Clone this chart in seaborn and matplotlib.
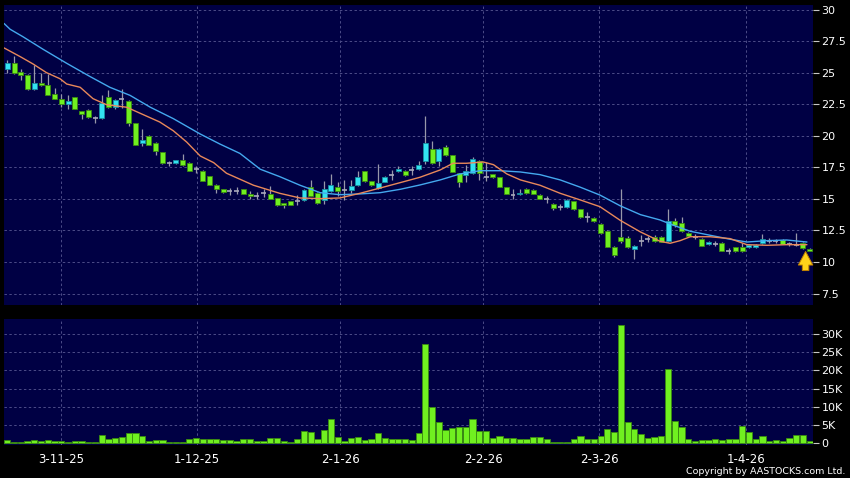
import numpy as np
import seaborn as sns
import matplotlib.pyplot as plt
from matplotlib.patches import Rectangle

# daily candles, oldest first
opens = [25.27, 25.75, 25.05, 24.8, 23.73, 24.2, 24.0, 23.3, 22.95, 22.5,
         23.05, 21.94, 22.04, 21.4, 21.39, 23.1, 22.3, 22.94, 22.73, 21.0,
         19.45, 19.98, 19.4, 18.7, 17.87, 17.87, 18.08, 17.82, 17.35, 17.23,
         16.8, 16.13, 15.76, 15.6, 15.65, 15.76, 15.39, 15.23, 15.44, 15.39,
         15.07, 14.65, 14.81, 14.86, 14.9, 15.92, 15.49, 14.91, 15.6, 15.92,
         15.7, 15.7, 16.08, 17.18, 16.39, 15.87, 16.34, 16.87, 17.18, 17.18,
         17.26, 17.39, 17.98, 18.98, 18.03, 19.09, 18.45, 17.03, 16.87, 17.08,
         17.98, 16.76, 16.97, 16.71, 15.92, 15.33, 15.35, 15.76, 15.7, 15.33,
         14.97, 14.6, 14.33, 14.33, 14.81, 14.17, 13.54, 13.49, 13.01, 12.48,
         11.21, 12.0, 11.9, 11.0, 11.7, 11.8, 11.95, 12.0, 11.64, 13.22,
         13.11, 12.32, 12.0, 11.85, 11.43, 11.45, 11.53, 10.85, 11.16, 11.16,
         11.16, 11.16, 11.48, 11.69, 11.64, 11.74, 11.43, 11.37, 11.53, 11.05]
highs = [26.0, 26.3, 25.27, 24.9, 25.6, 24.95, 24.9, 23.8, 23.3, 23.25,
         23.1, 22.0, 22.1, 21.6, 23.2, 23.6, 22.9, 23.7, 22.8, 21.05,
         20.5, 20.05, 19.5, 18.75, 18.0, 18.1, 18.56, 17.9, 17.6, 17.3,
         16.85, 16.2, 15.8, 15.85, 15.9, 15.8, 15.65, 15.55, 15.75, 16.0,
         15.1, 14.7, 14.85, 15.3, 15.75, 16.5, 15.55, 16.44, 17.0, 16.3,
         16.5, 16.5, 17.2, 17.2, 16.45, 17.77, 16.8, 17.3, 17.6, 17.3,
         17.6, 18.0, 21.57, 19.56, 19.0, 19.3, 18.5, 17.05, 17.7, 18.35,
         18.1, 17.9, 17.0, 16.75, 15.95, 15.8, 15.75, 15.85, 15.75, 15.4,
         15.2, 14.65, 14.6, 14.95, 14.85, 14.2, 13.95, 13.55, 13.05, 12.5,
         11.25, 15.76, 12.05, 11.35, 12.1, 12.05, 12.1, 12.05, 14.17, 13.45,
         13.6, 12.4, 12.2, 11.9, 11.65, 11.7, 11.6, 11.1, 11.2, 11.5,
         11.4, 11.4, 12.2, 11.9, 11.85, 11.85, 11.6, 12.27, 11.6, 11.1]
lows = [25.0, 24.9, 24.4, 23.65, 23.6, 23.95, 23.2, 22.9, 22.3, 22.15,
        22.1, 21.3, 21.4, 21.0, 21.3, 22.2, 22.1, 22.2, 20.8, 19.25,
        19.2, 19.25, 18.5, 17.8, 17.6, 17.8, 17.6, 17.2, 17.05, 16.4,
        16.1, 15.44, 15.5, 15.3, 15.4, 15.35, 15.0, 14.95, 15.15, 14.95,
        14.45, 14.3, 14.5, 14.5, 14.8, 15.2, 14.6, 14.6, 15.55, 15.2,
        14.9, 15.45, 16.0, 16.35, 16.0, 15.8, 16.3, 16.5, 17.1, 16.8,
        16.9, 17.3, 17.8, 17.8, 17.6, 18.4, 17.1, 15.92, 16.3, 17.0,
        16.5, 16.4, 16.65, 15.9, 15.35, 15.0, 15.3, 15.4, 15.35, 14.95,
        14.7, 14.1, 14.1, 14.3, 14.15, 13.5, 13.15, 13.2, 12.25, 11.15,
        10.4, 11.5, 11.1, 10.26, 11.3, 11.55, 11.6, 11.55, 11.6, 12.8,
        12.4, 11.95, 11.8, 11.25, 11.35, 11.3, 10.85, 10.6, 10.8, 10.75,
        11.1, 11.1, 11.45, 11.5, 11.5, 11.4, 11.3, 11.25, 11.05, 10.85]
closes = [25.75, 24.95, 24.8, 23.73, 24.16, 24.0, 23.26, 22.95, 22.5, 22.75,
          22.15, 21.73, 21.47, 21.4, 22.62, 22.26, 22.84, 22.94, 21.0, 19.3,
          19.67, 19.3, 18.8, 17.87, 17.87, 18.08, 17.7, 17.23, 17.35, 16.44,
          16.13, 15.8, 15.55, 15.6, 15.65, 15.39, 15.23, 15.23, 15.44, 15.0,
          14.49, 14.49, 14.54, 14.86, 15.7, 15.23, 14.65, 15.76, 16.08, 15.65,
          15.7, 16.02, 16.71, 16.39, 16.08, 16.24, 16.71, 16.87, 17.39, 16.87,
          17.26, 17.66, 19.4, 17.87, 18.98, 18.45, 17.13, 16.34, 17.18, 18.14,
          17.03, 16.76, 16.71, 15.92, 15.39, 15.33, 15.45, 15.44, 15.39, 14.97,
          14.97, 14.28, 14.33, 14.91, 14.17, 13.54, 13.54, 13.27, 12.27, 11.21,
          10.53, 11.64, 11.16, 11.27, 11.7, 11.8, 11.7, 11.6, 13.22, 12.9,
          12.45, 12.03, 12.0, 11.27, 11.58, 11.45, 10.88, 10.85, 10.9, 10.9,
          11.32, 11.37, 11.8, 11.69, 11.64, 11.43, 11.43, 11.37, 11.1, 10.9]

volumes = [900, 400, 400, 700, 900, 550, 900, 600, 600, 450,
           600, 700, 400, 400, 2200, 1300, 1500, 1700, 2800, 2800,
           2100, 600, 1000, 1000, 450, 400, 400, 1300, 1500, 1200,
           1100, 1100, 1000, 900, 700, 1200, 1200, 700, 700, 1500,
           1500, 550, 400, 1300, 3400, 3000, 1300, 3750, 6600, 1700,
           600, 1400, 1800, 900, 1100, 2800, 1400, 1200, 1200, 1100,
           800, 2800, 27300, 10000, 5900, 3750, 4100, 4400, 4500, 6600,
           3300, 3300, 1500, 2000, 1600, 1600, 1200, 1100, 1700, 1700,
           1200, 400, 450, 300, 1300, 2000, 1100, 1200, 1900, 3900,
           3100, 32400, 5900, 3900, 2600, 1600, 1700, 1900, 20400, 6200,
           4500, 1200, 700, 1000, 1000, 1300, 1000, 1100, 1100, 4850,
           3000, 1300, 2100, 700, 900, 600, 1600, 2200, 2200, 550]

# moving average lines, read at points along the chart
ma_long_x = [-0.5, 0.4, 2.3, 5.3, 8.8, 12.3, 15.2, 18.2, 21.2, 24.6, 28.6, 31.5,
             34.5, 37.5, 40.4, 43.4, 46.4, 49.3, 52.3, 55.3, 58.3, 61.2, 64.2,
             67.1, 70.1, 73.1, 76.1, 79, 82, 85, 87.9, 90.9, 93.9, 96.8, 98.8,
             101.3, 104.2, 107.2, 109.7, 112.7, 115.6, 118.6]
ma_long = [28.9, 28.44, 27.85, 26.85, 25.74, 24.68, 23.84, 23.2, 22.26, 21.36, 20.14, 19.35,
           18.6, 17.35, 16.76, 16.08, 15.49, 15.33, 15.39, 15.49, 15.76, 16.1, 16.5,
           16.97, 17.23, 17.23, 17.13, 16.92, 16.5, 15.92, 15.3, 14.45, 13.75, 13.33, 12.91,
           12.43, 12.12, 11.8, 11.58, 11.69, 11.74, 11.58]
ma_short_x = [-0.5, 1.9, 3.8, 5.8, 7.8, 8.8, 10.8, 12.7, 14.7, 17.7, 19.7, 22.6,
              24.6, 26.6, 28.6, 30.6, 32.5, 36.5, 40.4, 43.4, 46.4, 49.3, 52.3,
              55.3, 58.3, 61.2, 64.2, 66.1, 68.1, 70.6, 72.1, 74.1, 76.1, 79, 82,
              85, 87.9, 90.9, 93.9, 96.8, 98.3, 99.8, 101.3, 104.2, 107.2, 109.7,
              112.7, 115.6, 118.6]
ma_short = [26.96, 26.27, 25.69, 25.0, 24.52, 24.1, 23.84, 22.94, 22.46, 22.26, 21.78, 21.09,
            20.4, 19.5, 18.4, 17.87, 17.03, 16.08, 15.44, 15.07, 15.02, 15.07, 15.44,
            15.86, 16.29, 16.71, 17.29, 17.82, 17.82, 17.92, 17.71, 16.97, 16.5, 16.08, 15.44,
            14.91, 14.38, 13.3, 12.38, 11.64, 11.48, 11.69, 12.0, 12.0, 11.85, 11.37,
            11.32, 11.37, 11.37]

date_labels = ["3-11-25", "1-12-25", "2-1-26", "2-2-26", "2-3-26", "1-4-26"]
date_pos = [7.95, 28.1, 49.4, 70.6, 87.75, 109.6]

price_ticks = [7.5, 10, 12.5, 15, 17.5, 20, 22.5, 25, 27.5, 30]
price_labels = ["7.5", "10", "12.5", "15", "17.5", "20", "22.5", "25", "27.5", "30"]
vol_ticks = [0, 5000, 10000, 15000, 20000, 25000, 30000]
vol_labels = ["0", "5K", "10K", "15K", "20K", "25K", "30K"]

navy = "#000044"
grid_col = "#4c4c88"
up_face, up_edge = "#33e3f2", "#1790a0"
dn_face, dn_edge = "#70f020", "#3a8a10"
doji_col = "#a8a8bc"
wick_col = "#9898aa"

sns.set_style("dark", {"axes.facecolor": navy, "figure.facecolor": "black"})
plt.rcParams["font.family"] = ["DejaVu Sans"]

fig = plt.figure(figsize=(8.5, 4.78), dpi=100, facecolor="black")
ax = fig.add_axes([4 / 850, 1 - 305 / 478, 809 / 850, 300 / 478])
axv = fig.add_axes([4 / 850, 1 - 445 / 478, 809 / 850, 126.5 / 478])

idx = np.arange(len(opens))

# candles
body_w = 0.74
ax.vlines(idx, lows, highs, color=wick_col, linewidth=0.9, zorder=3)
for i, (o, c) in enumerate(zip(opens, closes)):
    if abs(c - o) < 0.02:
        ax.hlines(o, i - body_w / 2, i + body_w / 2, color=doji_col, linewidth=1.2, zorder=4)
        continue
    face, edge = (up_face, up_edge) if c > o else (dn_face, dn_edge)
    ax.add_patch(Rectangle((i - body_w / 2, min(o, c)), body_w, abs(c - o),
                           facecolor=face, edgecolor=edge, linewidth=0.6, zorder=4))

sns.lineplot(x=ma_long_x, y=ma_long, color="#44a8ee", linewidth=1.0, ax=ax, zorder=5)
sns.lineplot(x=ma_short_x, y=ma_short, color="#e8885a", linewidth=1.0, ax=ax, zorder=5)

# yellow marker arrow at the latest bar
ax.annotate("", xy=(118.4, 11.05), xytext=(118.4, 9.1),
            arrowprops=dict(arrowstyle="simple,head_width=0.8,head_length=0.75,tail_width=0.36",
                            fc="#ffd21a", ec="#c08000", lw=0.7, mutation_scale=13), zorder=6)

ax.set_xlim(-0.5, 119.5)
ax.set_ylim(6.59, 30.36)
ax.set_yticks(price_ticks)
ax.set_yticklabels(price_labels)
ax.set_xticks(date_pos)
ax.set_xticklabels([])
ax.tick_params(axis="x", length=0)

# volume
sns.barplot(x=idx, y=volumes, native_scale=True, color=dn_face, saturation=1,
            edgecolor=dn_edge, linewidth=0.6, width=0.92, errorbar=None, ax=axv, zorder=3)
axv.set_xlim(-0.5, 119.5)
axv.set_ylim(-450, 34200)
axv.set_yticks(vol_ticks)
axv.set_yticklabels(vol_labels)
axv.set_xticks(date_pos)
axv.set_xticklabels(date_labels)
axv.set_xlabel("")
axv.set_ylabel("")

for a in (ax, axv):
    a.set_facecolor(navy)
    a.yaxis.tick_right()
    a.grid(True, color=grid_col, linestyle=(0, (2.5, 2.5)), linewidth=0.7)
    a.set_axisbelow(True)
    for s in a.spines.values():
        s.set_visible(False)
    a.tick_params(axis="y", colors="#c8c8c8", labelcolor="white", length=4, width=0.8,
                  pad=2, labelsize=8, direction="out")
axv.tick_params(axis="x", colors="#9090a0", labelcolor="white", length=3, width=0.8,
                pad=2.5, labelsize=8.5, direction="out")

fig.text(0.994, 0.004, "Copyright by AASTOCKS.com Ltd.", ha="right", va="bottom",
         color="white", fontsize=6.8)

fig.savefig("out.png", dpi=100, facecolor="black")
